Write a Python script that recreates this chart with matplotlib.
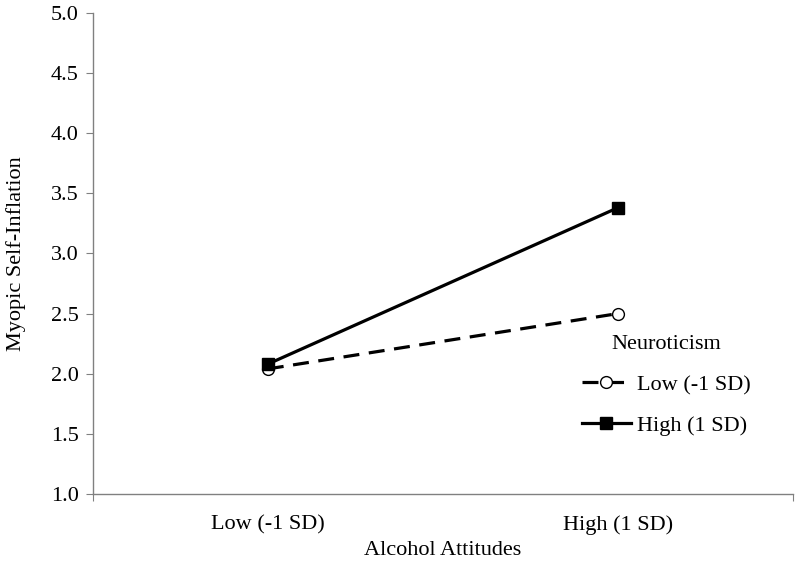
import matplotlib.pyplot as plt

plt.rcParams['font.family'] = ['Liberation Serif', 'DejaVu Serif']

categories = ["Low (-1 SD)", "High (1 SD)"]
low_neuro = [2.04, 2.50]
high_neuro = [2.08, 3.38]
yticks = [1.0, 1.5, 2.0, 2.5, 3.0, 3.5, 4.0, 4.5, 5.0]

fig = plt.figure(figsize=(8, 5.63), dpi=100)
ax = fig.add_axes([0.116, 0.1226, 0.875, 0.8544])

xpos = [0.5, 1.5]
ax.plot(xpos, low_neuro, color='black', lw=2.3, dashes=(5, 3),
        marker='o', markersize=8.5, markerfacecolor='white',
        markeredgecolor='black', markeredgewidth=1.0, label="Low (-1 SD)")
ax.plot(xpos, high_neuro, color='black', lw=2.3,
        marker='s', markersize=8.5, markerfacecolor='black',
        markeredgecolor='black', label="High (1 SD)")

ax.set_xlim(0, 2)
ax.set_ylim(1.0, 5.0)
ax.set_yticks(yticks)
ax.set_yticklabels([f"{v:.1f}" for v in yticks])
ax.set_xticks([0, 2])
ax.set_xticklabels([])
ax.set_xticks(xpos, minor=True)
ax.set_xticklabels(categories, minor=True)
ax.tick_params(axis='x', which='minor', length=0, labelsize=16, pad=15)
ax.tick_params(axis='x', which='major', length=5, color='#808080')
ax.tick_params(axis='y', length=5, color='#808080', labelsize=16, pad=5)

for side in ['top', 'right']:
    ax.spines[side].set_visible(False)
for side in ['left', 'bottom']:
    ax.spines[side].set_color('#808080')
    ax.spines[side].set_linewidth(1.0)

ax.set_xlabel("Alcohol Attitudes", fontsize=16, labelpad=5)
ax.set_ylabel("Myopic Self-Inflation", fontsize=16, labelpad=18)

leg = ax.legend(title="Neuroticism", frameon=False, fontsize=16,
                title_fontsize=16, loc='upper left',
                bbox_to_anchor=(0.67, 0.372), handlelength=2.2,
                handletextpad=0.3, labelspacing=0.92)

fig.savefig("out.png", dpi=100)
